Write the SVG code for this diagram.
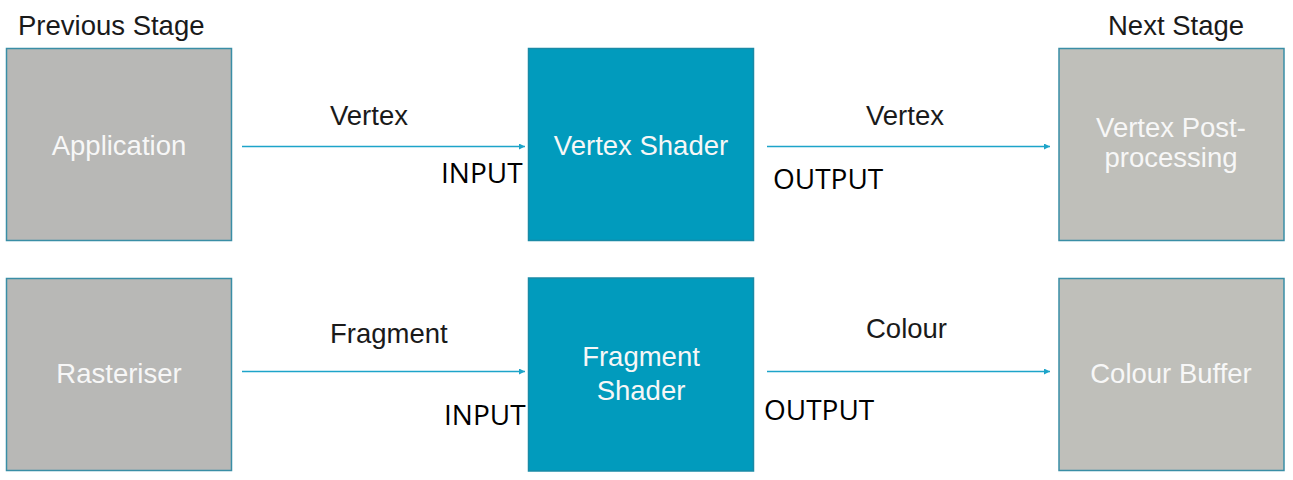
<svg xmlns="http://www.w3.org/2000/svg" width="1293" height="480" viewBox="0 0 1293 480">
<defs>
<style>
.grey{fill:#b8b8b6;stroke:#3a8ea6;stroke-width:1.5}
.grey2{fill:#bfbfba;stroke:#3a8ea6;stroke-width:1.5}
.teal{fill:#019bbd;stroke:#1a8aa6;stroke-width:1.5}
.nt{font-family:"Liberation Sans",Arial,sans-serif;font-size:27.5px;fill:#f7f7f7;text-anchor:middle}
.lbl{font-family:"Liberation Sans",Arial,sans-serif;font-size:27.5px;fill:#1a1a1a}
.io{font-family:"Open Sans",sans-serif;font-size:28px;fill:#000}
.conn{stroke:#1da4c9;stroke-width:1.6;fill:none;marker-end:url(#ah)}
</style>
<marker id="ah" viewBox="0 0 10 10" refX="10" refY="5" markerWidth="6" markerHeight="6" markerUnits="userSpaceOnUse" orient="auto">
<path d="M0,0 L10,5 L0,10 z" fill="#1da4c9"/>
</marker>
</defs>
<rect width="1293" height="480" fill="#fff"/>
<text class="lbl" x="18" y="35">Previous Stage</text>
<text class="lbl" x="1108" y="35">Next Stage</text>

<g id="application"><rect class="grey" x="6.5" y="48.5" width="225" height="192"/><text class="nt" x="119" y="155">Application</text></g>
<g id="vertex-shader"><rect class="teal" x="528.5" y="48.5" width="225" height="192"/><text class="nt" x="641" y="155">Vertex Shader</text></g>
<g id="vertex-post"><rect class="grey2" x="1059" y="48.5" width="225" height="192"/><text class="nt" x="1171" y="137">Vertex Post-</text><text class="nt" x="1171" y="167">processing</text></g>
<g id="rasteriser"><rect class="grey" x="6.5" y="278.5" width="225" height="192"/><text class="nt" x="119" y="383">Rasteriser</text></g>
<g id="fragment-shader"><rect class="teal" x="528.5" y="278" width="225" height="193"/><text class="nt" x="641" y="366">Fragment</text><text class="nt" x="641" y="400">Shader</text></g>
<g id="colour-buffer"><rect class="grey2" x="1059" y="278.5" width="225" height="192"/><text class="nt" x="1171" y="383">Colour Buffer</text></g>

<g id="connectors">
<line class="conn" x1="242" y1="146.5" x2="525" y2="146.5"/>
<line class="conn" x1="767" y1="146.5" x2="1050" y2="146.5"/>
<line class="conn" x1="242" y1="371.5" x2="525" y2="371.5"/>
<line class="conn" x1="767" y1="371.5" x2="1050" y2="371.5"/>
</g>

<g id="labels">
<text class="lbl" x="330" y="125">Vertex</text>
<text class="lbl" x="866" y="125">Vertex</text>
<text class="lbl" x="330" y="343">Fragment</text>
<text class="lbl" x="866" y="338">Colour</text>
<text class="io" x="441" y="183">INPUT</text>
<text class="io" x="773" y="189">OUTPUT</text>
<text class="io" x="444" y="425">INPUT</text>
<text class="io" x="764" y="420">OUTPUT</text>
</g>
</svg>
